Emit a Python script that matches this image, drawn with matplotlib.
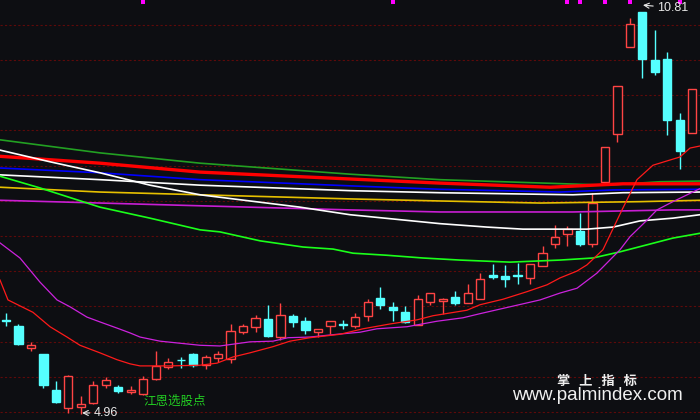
import numpy as np
import matplotlib
matplotlib.use('Agg')
import matplotlib.pyplot as plt
import matplotlib.transforms as mtransforms

# ---------------- data ----------------
opens  = [6.33, 6.24, 5.92, 5.83, 5.31, 5.05, 5.06, 5.12, 5.38, 5.35,
          5.28, 5.25, 5.47, 5.65, 5.75, 5.84, 5.68, 5.77, 5.76, 6.16,
          6.23, 6.34, 6.08, 6.39, 6.31, 6.16, 6.24, 6.27, 6.24, 6.39,
          6.65, 6.52, 6.44, 6.25, 6.59, 6.61, 6.66, 6.57, 6.64, 6.98,
          6.97, 6.98, 6.94, 7.11, 7.44, 7.58, 7.63, 7.43, 8.33, 9.03,
          10.30, 10.81, 10.11, 10.13, 9.24, 9.05]
highs  = [6.43, 6.27, 6.01, 5.84, 5.44, 5.53, 5.22, 5.44, 5.50, 5.38,
          5.37, 5.51, 5.88, 5.77, 5.79, 5.85, 5.82, 5.88, 6.27, 6.27,
          6.40, 6.55, 6.57, 6.42, 6.37, 6.20, 6.31, 6.33, 6.43, 6.63,
          6.81, 6.59, 6.53, 6.69, 6.72, 6.65, 6.75, 6.85, 7.01, 7.14,
          7.13, 7.16, 7.14, 7.40, 7.71, 7.70, 7.89, 8.17, 8.85, 9.74,
          10.72, 10.81, 10.55, 10.23, 9.34, 9.69]
lows   = [6.24, 5.96, 5.87, 5.34, 5.12, 4.98, 4.96, 5.11, 5.34, 5.26,
          5.25, 5.24, 5.46, 5.61, 5.63, 5.64, 5.61, 5.71, 5.70, 6.12,
          6.16, 6.08, 6.04, 6.22, 6.12, 6.08, 6.13, 6.20, 6.21, 6.32,
          6.49, 6.31, 6.28, 6.25, 6.55, 6.42, 6.55, 6.57, 6.64, 6.92,
          6.81, 6.85, 6.85, 7.11, 7.38, 7.41, 7.41, 7.39, 8.29, 8.92,
          10.30, 9.85, 9.90, 9.02, 8.53, 9.05]
closes = [6.31, 5.98, 5.96, 5.38, 5.14, 5.52, 5.10, 5.38, 5.45, 5.29,
          5.31, 5.47, 5.66, 5.71, 5.74, 5.67, 5.79, 5.83, 6.17, 6.24,
          6.35, 6.10, 6.40, 6.30, 6.18, 6.19, 6.31, 6.26, 6.37, 6.59,
          6.55, 6.47, 6.30, 6.64, 6.72, 6.64, 6.58, 6.72, 6.92, 6.95,
          6.93, 6.97, 7.14, 7.30, 7.54, 7.65, 7.43, 8.03, 8.85, 9.74,
          10.64, 10.13, 9.93, 9.24, 8.79, 9.69]

# moving-average lines: points (x in bar index, y in price)
ma_red_x = [-0.48, 0.16, 2.16, 3.53, 4.89, 5.93, 7.53, 8.90, 9.94, 10.74, 13.14,
            15.55, 16.91, 18.19, 19.55, 21.40, 22.76, 24.36, 26.77, 28.61, 30.77,
            32.94, 34.22, 35.58, 36.94, 37.99, 39.83, 41.75, 43.36, 44.40, 45.76,
            46.56, 47.84, 49.37, 50.57, 51.85, 54.01, 54.82, 55.62]
ma_red_y = [6.91, 6.62, 6.44, 6.23, 6.08, 5.96, 5.85, 5.75, 5.69, 5.66, 5.66,
            5.67, 5.70, 5.79, 5.85, 5.94, 6.02, 6.07, 6.12, 6.20, 6.27,
            6.33, 6.39, 6.43, 6.47, 6.55, 6.63, 6.74, 6.84, 6.94, 7.04,
            7.13, 7.35, 7.93, 8.37, 8.58, 8.70, 8.83, 8.86]

ma_mag_x = [-0.48, 1.12, 2.72, 4.09, 5.13, 6.49, 7.53, 8.90, 9.94, 10.74, 12.34,
            13.94, 15.55, 17.15, 19.55, 21.40, 22.60, 24.36, 26.53, 28.37, 29.73,
            32.14, 34.54, 36.62, 37.99, 42.80, 44.40, 45.76, 47.36, 49.21, 50.01,
            51.37, 52.17, 53.45, 55.62]
ma_mag_y = [7.45, 7.23, 6.88, 6.62, 6.52, 6.37, 6.30, 6.21, 6.14, 6.08, 6.02,
            5.99, 5.96, 5.95, 6.01, 6.02, 6.07, 6.08, 6.12, 6.15, 6.20,
            6.23, 6.31, 6.36, 6.42, 6.62, 6.72, 6.79, 7.01, 7.35, 7.54,
            7.78, 7.93, 8.05, 8.24]

ma_lime_x = [-0.48, 2.72, 7.53, 11.54, 15.55, 17.15, 20.36, 23.80, 26.21, 27.81,
             30.53, 33.42, 36.38, 40.39, 44.40, 47.04, 49.21, 53.45, 55.62]
ma_lime_y = [8.42, 8.25, 7.97, 7.81, 7.64, 7.61, 7.48, 7.39, 7.36, 7.30,
             7.27, 7.23, 7.20, 7.17, 7.20, 7.23, 7.32, 7.52, 7.59]

ma_white1_x = [-0.48, 3.53, 7.53, 11.54, 15.55, 23.56, 27.57, 34.78, 38.55,
               41.43, 46.56, 48.65, 50.81, 53.45, 55.62]
ma_white1_y = [8.80, 8.63, 8.47, 8.29, 8.15, 7.97, 7.86, 7.73, 7.68,
               7.65, 7.65, 7.68, 7.77, 7.81, 7.86]

ma_white2_x = [-0.48, 7.53, 15.55, 27.57, 34.78, 45.44, 49.45, 55.62]
ma_white2_y = [8.44, 8.37, 8.29, 8.21, 8.18, 8.15, 8.18, 8.19]

ma_blue_x = [-0.48, 7.53, 15.55, 27.57, 34.78, 44.40, 48.65, 55.62]
ma_blue_y = [8.54, 8.47, 8.37, 8.28, 8.23, 8.19, 8.22, 8.23]

ma_thick_x = [-0.48, 7.53, 15.55, 27.57, 34.78, 43.60, 49.45, 55.62]
ma_thick_y = [8.71, 8.61, 8.48, 8.38, 8.32, 8.26, 8.31, 8.31]

ma_dgreen_x = [-0.48, 7.53, 15.55, 27.57, 34.78, 48.16, 52.41, 55.62]
ma_dgreen_y = [8.95, 8.76, 8.61, 8.45, 8.37, 8.29, 8.34, 8.35]

ma_yellow_x = [-0.48, 7.53, 15.55, 27.57, 34.78, 42.80, 50.81, 55.62]
ma_yellow_y = [8.26, 8.19, 8.15, 8.09, 8.06, 8.03, 8.05, 8.07]

ma_mag2_x = [-0.48, 7.53, 15.55, 27.57, 34.78, 45.44, 53.45, 55.62]
ma_mag2_y = [8.07, 8.03, 7.99, 7.93, 7.90, 7.90, 7.93, 7.93]

signal_idx = [11, 31, 45, 46, 48, 50, 54]

high_label = "10.81"
low_label = "4.96"
signal_label = "江恩选股点"
brand_cn = "掌   上   指   标"
brand_url = "www.palmindex.com"

# ---------------- drawing ----------------
BG = '#0d0e12'
UP = '#ff4444'
DOWN = '#55ffff'

fig = plt.figure(figsize=(7, 4.2), dpi=100, facecolor=BG)
ax = fig.add_axes([0, 0, 1, 1])
ax.set_facecolor(BG)
ax.set_xlim(-0.48, 55.62)
ax.set_ylim(4.8727, 10.9845)
ax.set_axis_off()

# dashed dark-red grid
for gy in np.linspace(10.6236, 4.9891, 12):
    ax.axhline(gy, color='#5e0a0a', lw=0.8, ls=(0, (2, 2)), zorder=0)

o = np.array(opens); h = np.array(highs); l = np.array(lows); c = np.array(closes)
x = np.arange(len(o))
up = c >= o
cols = np.where(up, UP, DOWN)
width = 0.66

ax.vlines(x, l, h, colors=cols, lw=1.0, zorder=2)
bottom = np.minimum(o, c)
height = np.maximum(np.abs(c - o), 0.008)
ax.bar(x[up], height[up], bottom=bottom[up], width=width, facecolor=BG,
       edgecolor=UP, lw=1.0, zorder=3)
ax.bar(x[~up], height[~up], bottom=bottom[~up], width=width, facecolor=DOWN,
       edgecolor=DOWN, lw=1.0, zorder=3)

# moving averages
mw = 1.2
ax.plot(ma_dgreen_x, ma_dgreen_y, color='#22a022', lw=mw, zorder=4)
ax.plot(ma_thick_x, ma_thick_y, color='#ff0000', lw=2.4, zorder=4)
ax.plot(ma_blue_x, ma_blue_y, color='#0000ff', lw=mw, zorder=4)
ax.plot(ma_white2_x, ma_white2_y, color='#ffffff', lw=mw, zorder=4)
ax.plot(ma_yellow_x, ma_yellow_y, color='#e6c000', lw=mw, zorder=4)
ax.plot(ma_mag2_x, ma_mag2_y, color='#c81ed2', lw=mw, zorder=4)
ax.plot(ma_white1_x, ma_white1_y, color='#ffffff', lw=mw, zorder=4)
ax.plot(ma_lime_x, ma_lime_y, color='#1aff1a', lw=mw, zorder=4)
ax.plot(ma_mag_x, ma_mag_y, color='#cc22dd', lw=0.9, zorder=5)
ax.plot(ma_red_x, ma_red_y, color='#ff1a1a', lw=0.9, zorder=5)

# signal markers at top edge
trans = mtransforms.blended_transform_factory(ax.transData, ax.transAxes)
ax.scatter(signal_idx, [1 - 1.5 / 420] * len(signal_idx), marker='s', s=9,
           color='#ff00ff', transform=trans, zorder=6, linewidths=0)

# high / low labels
hi_i = int(np.argmax(h)); lo_i = int(np.argmin(l))
ax.annotate(high_label, xy=(hi_i + 0.05, h[hi_i] + 0.1), xytext=(hi_i + 1.2, h[hi_i] + 0.06),
            color='#e8e8e8', fontsize=9, family='Liberation Sans', va='center', ha='left',
            arrowprops=dict(arrowstyle='->', color='#e8e8e8', lw=0.8, shrinkA=1, shrinkB=0),
            zorder=7)
ax.annotate(low_label, xy=(lo_i + 0.1, l[lo_i] + 0.015), xytext=(lo_i + 1.05, l[lo_i] + 0.015),
            color='#e8e8e8', fontsize=9, family='Liberation Sans', va='center', ha='left',
            arrowprops=dict(arrowstyle='->', color='#e8e8e8', lw=0.8, shrinkA=1, shrinkB=0),
            zorder=7)

ax.text(10.98, 5.15, signal_label, color='#22cc22', fontsize=9, va='center', ha='left',
        family=['Noto Sans CJK SC', 'DejaVu Sans'], zorder=7)

# watermark
ax.text(597 / 700, 1 - 381 / 420, brand_cn, transform=ax.transAxes, color='#f0f0f0',
        fontsize=9.5, fontweight='bold', ha='center', va='center',
        family=['Noto Sans CJK SC', 'DejaVu Sans'], zorder=7)
ax.text(597 / 700, 1 - 396 / 420, brand_url, transform=ax.transAxes, color='#f0f0f0',
        fontsize=13.5, ha='center', va='center', family='Liberation Sans', zorder=7)

fig.savefig('out.png', dpi=100, facecolor=BG)
